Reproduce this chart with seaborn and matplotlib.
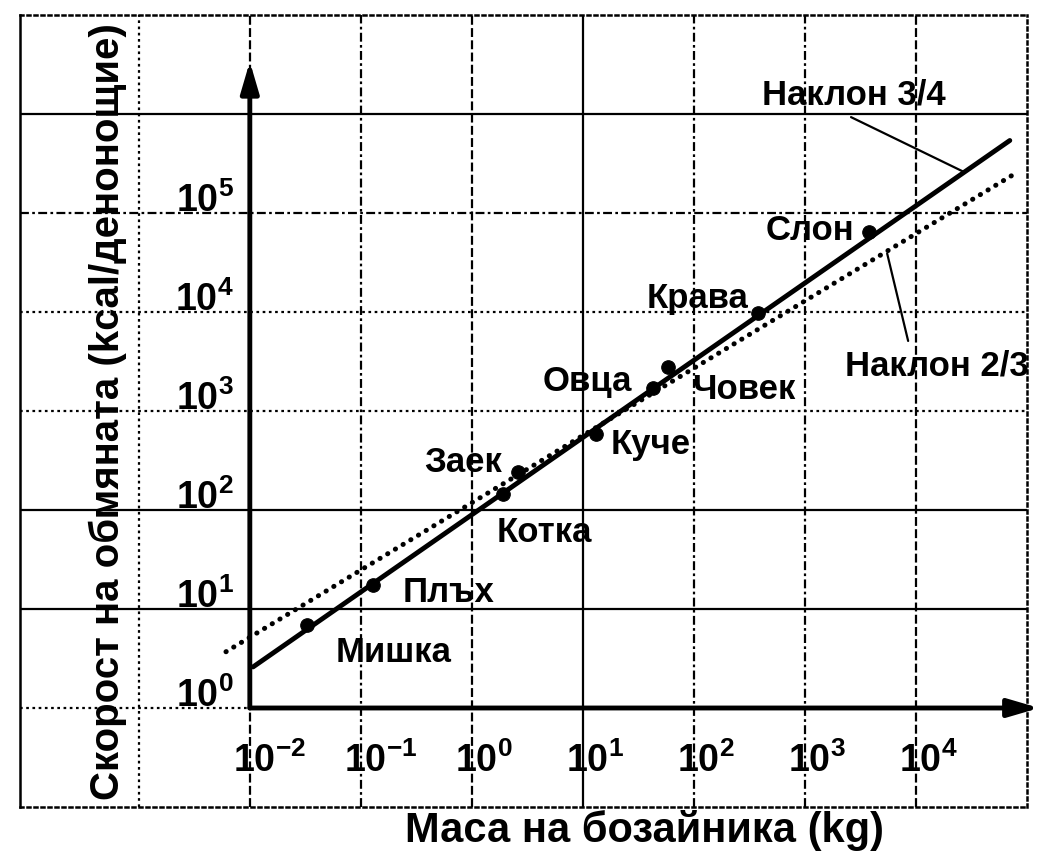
import matplotlib
matplotlib.use("Agg")
import matplotlib.pyplot as plt
import seaborn as sns

# values
animals = ["Мишка", "Плъх", "Котка", "Заек", "Куче", "Овца", "Човек", "Крава", "Слон"]
body_mass_kg = [0.033, 0.13, 1.9, 2.6, 13, 43, 59, 380, 3800]
metabolic_rate = [6.9, 17.5, 145, 242, 590, 1700, 2800, 9800, 65000]

# the two reference lines (end points)
slope34_mass = [0.0107, 7.0e4]
slope34_rate = [2.6, 5.4e5]
slope23_mass = [0.0061, 7.8e4]
slope23_rate = [3.7, 2.5e5]

# leader lines from the slope labels
leader34_mass = [2600, 2.7e4]
leader34_rate = [9.3e5, 2.6e5]
leader23_mass = [5500, 8500]
leader23_rate = [3.9e4, 5100]

mass_ticks = [1e-2, 1e-1, 1e0, 1e1, 1e2, 1e3, 1e4]
mass_tick_labels = [r"$\mathregular{10^{-2}}$", r"$\mathregular{10^{-1}}$", r"$\mathregular{10^{0}}$",
                    r"$\mathregular{10^{1}}$", r"$\mathregular{10^{2}}$", r"$\mathregular{10^{3}}$",
                    r"$\mathregular{10^{4}}$"]
rate_ticks = [1e0, 1e1, 1e2, 1e3, 1e4, 1e5]
rate_tick_labels = [r"$\mathregular{10^{0}}$", r"$\mathregular{10^{1}}$", r"$\mathregular{10^{2}}$",
                    r"$\mathregular{10^{3}}$", r"$\mathregular{10^{4}}$", r"$\mathregular{10^{5}}$"]

sns.set_theme(style="white")
plt.rcParams["font.family"] = ["Liberation Sans", "DejaVu Sans"]
plt.rcParams["text.color"] = "black"
plt.rcParams["axes.labelcolor"] = "black"
plt.rcParams["axes.labelweight"] = "bold"

# label offsets (pixels from each dot)
label_offsets = {
    "Мишка": (86, -37), "Плъх": (75, -17), "Котка": (41, -48),
    "Заек": (-55, 0), "Куче": (55, -20), "Овца": (-66, -3),
    "Човек": (75, -32), "Крава": (-61, 5), "Слон": (-59, -8),
}

dotted = (0, (1.2, 1.6))
dashed = (0, (4, 1.5))
dashdot = (0, (4, 1.5, 1.2, 1.5))
h_grid = {6: "-", 5: dashdot, 4: dotted, 3: dotted, 2: "-", 1: "-", 0: dotted}
v_grid = {-3: dotted, -2: dashed, -1: dashdot, 0: dashed, 1: "-", 2: dashdot, 3: dashdot, 4: dashed}

fig = plt.figure(figsize=(10.47, 8.61), dpi=100)
ax = fig.add_axes([20 / 1047, 54 / 861, 1007 / 1047, 792 / 861])
ax.set_xscale("log")
ax.set_yscale("log")
ax.set_xlim(10 ** -4.07, 1e5)
ax.set_ylim(1e-1, 1e7)

for k, ls in h_grid.items():
    ax.axhline(10.0 ** k, color="black", lw=1.6, ls=ls, zorder=1)
for k, ls in v_grid.items():
    ax.axvline(10.0 ** k, color="black", lw=1.6, ls=ls, zorder=1)

for side in ["top", "bottom", "right"]:
    ax.spines[side].set_linestyle(dotted)
    ax.spines[side].set_linewidth(1.8)
    ax.spines[side].set_color("black")
ax.spines["left"].set_linewidth(1.8)
ax.spines["left"].set_color("black")

# main axes with arrows
arrow = dict(arrowstyle="-|>,head_length=0.75,head_width=0.22", lw=3.5, color="black",
             shrinkA=0, shrinkB=0, mutation_scale=25)
ax.annotate("", xy=(10 ** 5.11, 1), xytext=(1e-2, 1), arrowprops=arrow, annotation_clip=False, zorder=4)
ax.annotate("", xy=(1e-2, 10 ** 6.53), xytext=(1e-2, 1), arrowprops=arrow, annotation_clip=False, zorder=4)

sns.lineplot(x=slope34_mass, y=slope34_rate, ax=ax, color="black", lw=3.5,
             estimator=None, sort=False, zorder=3)
sns.lineplot(x=slope23_mass, y=slope23_rate, ax=ax, color="black", lw=3.6,
             linestyle=(0, (0.05, 1.75)), dash_capstyle="round",
             estimator=None, sort=False, zorder=3)
sns.lineplot(x=leader34_mass, y=leader34_rate, ax=ax, color="black", lw=1.6,
             estimator=None, sort=False, zorder=3)
sns.lineplot(x=leader23_mass, y=leader23_rate, ax=ax, color="black", lw=1.6,
             estimator=None, sort=False, zorder=3)
sns.scatterplot(x=body_mass_kg, y=metabolic_rate, ax=ax, color="black", s=95,
                edgecolor="black", zorder=5)

ax.set_xticks([])
ax.set_yticks([])
ax.minorticks_off()

for name, m, r in zip(animals, body_mass_kg, metabolic_rate):
    ax.annotate(name, xy=(m, r), xytext=label_offsets[name], textcoords="offset pixels",
                ha="center", va="baseline", fontsize=25, fontweight="bold", zorder=6)

ax.annotate("Наклон 3/4", xy=(leader34_mass[0], leader34_rate[0]), xytext=(3, 13),
            textcoords="offset pixels", ha="center", va="baseline", fontsize=25, fontweight="bold")
ax.annotate("Наклон 2/3", xy=(leader23_mass[1], leader23_rate[1]), xytext=(29, -35),
            textcoords="offset pixels", ha="center", va="baseline", fontsize=25, fontweight="bold")

# tick labels sit inside the grid, next to the arrows
for t, lab in zip(mass_ticks, mass_tick_labels):
    ax.annotate(lab, xy=(t, 1), xytext=(-17, -64), textcoords="offset pixels",
                ha="left", va="baseline", fontsize=27, fontweight="bold")
for t, lab in zip(rate_ticks, rate_tick_labels):
    ax.annotate(lab, xy=(1e-2, t), xytext=(-16, 1), textcoords="offset pixels",
                ha="right", va="baseline", fontsize=27, fontweight="bold")

ax.set_xlabel("Маса на бозайника (kg)", fontsize=30, va="top", visible=True)
ax.xaxis.set_label_coords(0.62, -0.004)
ax.set_ylabel("Скорост на обмяната (kcal/денонощие)", fontsize=29, va="center", visible=True)
ax.yaxis.label.set_fontweight("bold")
ax.xaxis.label.set_fontweight("bold")
ax.yaxis.set_label_coords(0.087, 0.499)

fig.savefig("out.png", dpi=100)
